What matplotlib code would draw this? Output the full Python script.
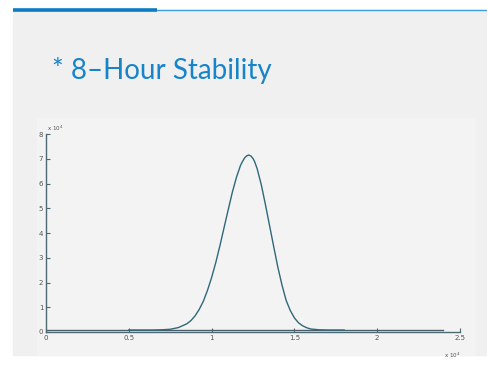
import matplotlib
matplotlib.use('Agg')
import matplotlib.pyplot as plt
from matplotlib.patches import Rectangle
from matplotlib.lines import Line2D

# curve (x in 1e4 units, y in 1e4 units)
curve_x = [0.50, 0.60, 0.65, 0.70, 0.75, 0.80, 0.85, 0.875, 0.90, 0.925, 0.95,
           0.975, 1.00, 1.025, 1.05, 1.075, 1.10, 1.125, 1.15, 1.175, 1.19, 1.20,
           1.2125, 1.225, 1.2375, 1.25, 1.26, 1.275, 1.30, 1.325, 1.35, 1.375,
           1.40, 1.425, 1.45, 1.475, 1.50, 1.525, 1.55, 1.575, 1.60, 1.65, 1.70, 1.80]
curve_y = [0.08, 0.08, 0.08, 0.09, 0.11, 0.18, 0.33, 0.46, 0.65, 0.91, 1.24,
           1.68, 2.20, 2.80, 3.48, 4.21, 4.93, 5.64, 6.25, 6.74, 6.93, 7.04,
           7.12, 7.15, 7.11, 7.01, 6.88, 6.60, 5.95, 5.15, 4.30, 3.45,
           2.62, 1.90, 1.28, 0.87, 0.57, 0.37, 0.25, 0.17, 0.12, 0.09, 0.08, 0.08]
base_x = [0.0, 2.4]
base_y = [0.1, 0.1]

xticks = [0, 0.5, 1, 1.5, 2, 2.5]
xtick_labels = ['0', '0.5', '1', '1.5', '2', '2.5']
yticks = [0, 1, 2, 3, 4, 5, 6, 7, 8]

W, H = 487, 380
fig = plt.figure(figsize=(W / 100, H / 100), dpi=100)
fig.patch.set_facecolor('white')

# slide panel and header rule
fig.patches.append(Rectangle((13 / W, 25 / H), 1, (370 - 25) / H,
                             transform=fig.transFigure, color='#f0f0f0', zorder=-2))
fig.patches.append(Rectangle((37 / W, 25 / H), (475 - 37) / W, (262 - 25) / H,
                             transform=fig.transFigure, color='#f3f3f3', zorder=-1))
fig.lines.append(Line2D([157 / W, 1], [1 - 10 / H, 1 - 10 / H], transform=fig.transFigure,
                        color='#3a9fdc', lw=1.0))
fig.lines.append(Line2D([13 / W, 157 / W], [1 - 10 / H, 1 - 10 / H], transform=fig.transFigure,
                        color='#0b7cc4', lw=2.6, solid_capstyle='butt'))

fig.text(52 / W, 1 - 70 / H, '* 8\u2013Hour Stability', fontsize=20, color='#1784ca',
         family='Lato', va='center', ha='left')

ax = fig.add_axes([46 / W, 1 - 332 / H, (460 - 46) / W, (332 - 134) / H])
ax.set_zorder(2)
ax.set_facecolor('none')
ax.plot(base_x, base_y, color='#4a5f68', lw=1.0)
ax.plot(curve_x, curve_y, color='#2f6878', lw=1.0)

ax.set_xlim(0, 2.5)
ax.set_ylim(0, 8)
ax.set_xticks(xticks)
ax.set_xticklabels(xtick_labels)
ax.set_yticks(yticks)
for s in ['top', 'right']:
    ax.spines[s].set_visible(False)
for s in ['left', 'bottom']:
    ax.spines[s].set_color('#4d6973')
    ax.spines[s].set_linewidth(1.0)
ax.tick_params(direction='in', length=3, width=0.8, color='#4d6973',
               labelsize=5, labelcolor='#555555', pad=2)

ax.text(0.005, 8.05, r'x 10$^4$', fontsize=4, color='#555555', ha='left', va='bottom')
ax.text(2.5, -0.75, r'x 10$^4$', fontsize=4, color='#555555', ha='right', va='top')

fig.savefig('out.png', dpi=100)
